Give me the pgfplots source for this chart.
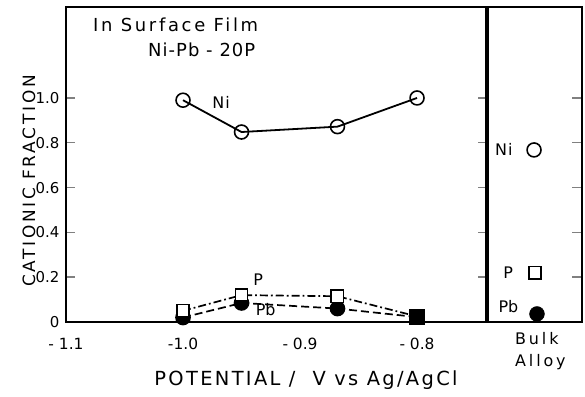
\documentclass[border=0pt]{standalone}
\usepackage{fontspec}
\setmainfont{DejaVu Sans}
\newfontfamily\fSix[LetterSpace=6]{DejaVu Sans}
\newfontfamily\fTitle[LetterSpace=15]{DejaVu Sans}
\newfontfamily\fXlab[LetterSpace=12]{DejaVu Sans}
\newfontfamily\fYlab[LetterSpace=16]{DejaVu Sans}
\newfontfamily\fBulk[LetterSpace=18]{DejaVu Sans}
\usepackage{pgfplots}
\pgfplotsset{compat=1.18}
\begin{document}
\begin{tikzpicture}[x=1bp,y=1bp]
\useasboundingbox (0,0) rectangle (585,396);
% ---------------- main panel ----------------
\begin{axis}[
  at={(66bp,74bp)}, anchor=south west,
  scale only axis, width=421bp, height=315bp,
  xmin=-1.1, xmax=-0.7402, ymin=0, ymax=1.406,
  axis line style={line width=2bp},
  /pgf/number format/assume math mode=true,
  xtick={-1.1,-1.0,-0.9,-0.8},
  xticklabels={- 1.1,-1.0,- 0.9,- 0.8},
  xtick style={draw=none},
  xticklabel style={font=\fontsize{15.5}{15.5}\selectfont, yshift=-13bp},
  ytick={0,0.2,0.4,0.6,0.8,1.0},
  yticklabels={0,0.2,0.4,0.6,0.8,1.0},
  yticklabel style={font=\fontsize{15}{15}\selectfont, xshift=-3bp},
  ytick style={line width=1.4bp},
  tick align=inside, major tick length=9bp,
  ytick pos=both, yticklabel pos=left, xtick pos=bottom,
  clip=false,
]
\addplot[line width=1.7bp, dash pattern=on 8bp off 4bp, mark=*, mark size=7, mark options={solid, fill=black}]
  coordinates {(-1.0,0.02) (-0.95,0.085) (-0.868,0.06) (-0.8,0.022)};
\addplot[line width=1.7bp, dash pattern=on 8bp off 3bp on 1.8bp off 3bp, mark=square*, mark size=6.2, mark options={solid, fill=white, line width=1.6bp}]
  coordinates {(-1.0,0.05) (-0.95,0.12) (-0.868,0.115) (-0.8,0.025)};
\addplot[only marks, mark=square*, mark size=7.5, mark options={fill=black}]
  coordinates {(-0.8,0.022)};
\addplot[line width=1.8bp, mark=o, mark size=7, mark options={fill=white, line width=1.6bp}]
  coordinates {(-1.0,0.99) (-0.95,0.848) (-0.868,0.872) (-0.8,1.0)};
\node[anchor=west, font=\fTitle\fontsize{18}{18}\selectfont, inner sep=0pt] at (axis cs:-1.077,1.326) {In Surface Film};
\node[anchor=west, font=\fSix\fontsize{18}{18}\selectfont, inner sep=0pt] at (axis cs:-1.03,1.214) {Ni-Pb - 20P};
\node[anchor=west, font=\fSix\fontsize{16}{16}\selectfont, inner sep=0pt] at (axis cs:-0.975,0.978) {Ni};
\node[anchor=west, font=\fontsize{16}{16}\selectfont, inner sep=0pt] at (axis cs:-0.94,0.1875) {P};
\node[anchor=west, font=\fontsize{16}{16}\selectfont, inner sep=0pt] at (axis cs:-0.938,0.054) {Pb};
\draw[line width=3.2bp] (rel axis cs:1,0) -- (rel axis cs:1,1);
\end{axis}
% ---------------- bulk alloy panel ----------------
\begin{axis}[
  at={(487bp,74bp)}, anchor=south west,
  scale only axis, width=95bp, height=315bp,
  xmin=0, xmax=1, ymin=0, ymax=1.406,
  axis line style={line width=2bp},
  xtick=\empty,
  ytick={0.2,0.4,0.6,0.8,1.0}, yticklabels=\empty,
  ytick style={line width=1.4bp},
  tick align=inside, major tick length=10bp,
  ytick pos=right,
  clip=false,
]
\addplot[only marks, mark=o, mark size=7, mark options={line width=1.6bp}]
  coordinates {(0.495,0.768)};
\addplot[only marks, mark=square, mark size=6.2, mark options={line width=1.6bp}]
  coordinates {(0.505,0.22)};
\addplot[only marks, mark=*, mark size=7.5, mark options={fill=black}]
  coordinates {(0.526,0.036)};
\node[anchor=west, font=\fSix\fontsize{16}{16}\selectfont, inner sep=0pt] at (axis cs:0.084,0.768) {Ni};
\node[anchor=west, font=\fontsize{16}{16}\selectfont, inner sep=0pt] at (axis cs:0.17,0.219) {P};
\node[anchor=west, font=\fontsize{16}{16}\selectfont, inner sep=0pt] at (axis cs:0.12,0.067) {Pb};
\end{axis}
% ---------------- outer labels ----------------
\node[anchor=west, font=\fBulk\fontsize{16}{16}\selectfont, inner sep=0pt] at (515,57) {Bulk};
\node[anchor=west, font=\fBulk\fontsize{16}{16}\selectfont, inner sep=0pt] at (515,34) {Alloy};
\node[font=\fXlab\fontsize{19.5}{19.5}\selectfont, inner sep=0pt] at (306,16) {POTENTIAL / \ V vs Ag/AgCl};
\node[rotate=90, font=\fYlab\fontsize{17}{17}\selectfont, inner sep=0pt] at (29,215) {CATIONIC FRACTION};
\end{tikzpicture}
\end{document}
